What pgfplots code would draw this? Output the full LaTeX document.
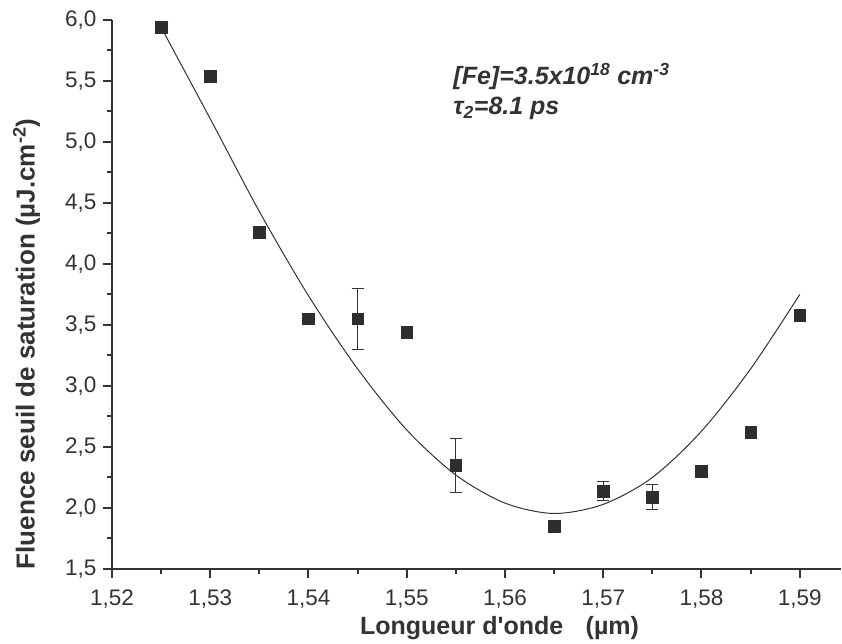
\documentclass[border=0pt]{standalone}
\usepackage{fontspec}
\setmainfont{Liberation Sans}
\usepackage{pgfplots}
\pgfplotsset{compat=1.18}
\definecolor{ink}{RGB}{51,51,51}
\definecolor{markc}{RGB}{45,45,50}
\begin{document}
\begin{tikzpicture}[x=1pt,y=1pt]
\path[use as bounding box] (-112,-75) rectangle (730,569);
\begin{axis}[
  at={(0,0)}, anchor=south west,
  scale only axis, width=729pt, height=549pt,
  xmin=1.52, xmax=1.5942, ymin=1.5, ymax=6.0,
  axis x line*=bottom, axis y line*=left,
  axis line style={ink, line width=2.2pt},
  tick align=outside,
  major tick length=9pt, minor tick length=5pt,
  tick style={ink, line width=2pt},
  xtick={1.52,1.53,1.54,1.55,1.56,1.57,1.58,1.59},
  xticklabels={{1,52},{1,53},{1,54},{1,55},{1,56},{1,57},{1,58},{1,59}},
  ytick={1.5,2.0,2.5,3.0,3.5,4.0,4.5,5.0,5.5,6.0},
  yticklabels={{1,5},{2,0},{2,5},{3,0},{3,5},{4,0},{4,5},{5,0},{5,5},{6,0}},
  minor x tick num=1, minor y tick num=1,
  tick label style={font=\fontsize{22.5}{24}\selectfont, text=ink},
  xticklabel shift=8pt,
  yticklabel shift=3pt,
  xlabel={\bfseries Longueur d\textquotesingle onde\hspace{0.9em}(µm)},
  xlabel style={font=\fontsize{25}{30}\selectfont, text=ink, at={(axis description cs:0.5316,-0.1202)}, anchor=base},
  ylabel={\bfseries Fluence seuil de saturation (µJ.cm\textsuperscript{-2})},
  ylabel style={font=\fontsize{26}{30}\selectfont, text=ink, at={(axis description cs:-0.106,0.41)}, anchor=base, rotate=0},
  clip=false,
]
% fitted curve
\addplot[smooth, ink, line width=1pt] coordinates {
(1.525,5.94) (1.530,5.19) (1.535,4.43) (1.540,3.74) (1.545,3.14)
(1.550,2.64) (1.555,2.27) (1.560,2.04) (1.565,1.955) (1.570,2.03)
(1.575,2.25) (1.580,2.63) (1.585,3.14) (1.590,3.75)
};
% error bars
\addplot[ink, only marks, mark=none, forget plot,
  error bars/.cd, y dir=both, y explicit,
  error bar style={line width=1pt},
  error mark=-, error mark options={rotate=90, line width=1pt, mark size=6pt}]
  table[x=x, y=y, y error=e] {
x y e
1.545 3.55 0.25
1.555 2.35 0.22
1.570 2.14 0.08
1.575 2.09 0.105
};
% data
\addplot[only marks, mark=square*, mark size=5.8pt, mark options={fill=markc, draw=markc}] coordinates {
(1.525,5.94) (1.530,5.54) (1.535,4.26) (1.540,3.55) (1.545,3.55)
(1.550,3.44) (1.555,2.35) (1.565,1.85) (1.570,2.14) (1.575,2.09)
(1.580,2.30) (1.585,2.62) (1.590,3.58)
};
\node[anchor=base west, font=\fontsize{25}{30}\selectfont\bfseries\itshape, text=ink]
  at (rel axis cs:0.4636,0.8816) {[Fe]=3.5x10\textsuperscript{18} cm\textsuperscript{-3}};
\node[anchor=base west, font=\fontsize{25}{30}\selectfont\bfseries\itshape, text=ink]
  at (rel axis cs:0.4636,0.827) {τ\textsubscript{2}=8.1 ps};
\end{axis}
\end{tikzpicture}
\end{document}
